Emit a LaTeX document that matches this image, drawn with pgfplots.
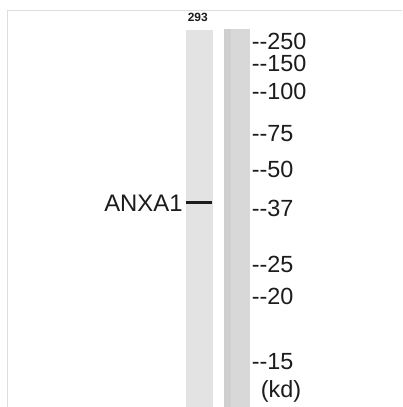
\documentclass[border=0pt]{standalone}
\usepackage{pgfplots}
\pgfplotsset{compat=1.18}
\usepackage{fontspec}
\setmainfont{Liberation Sans}
\definecolor{laneA}{HTML}{E3E3E3}
\definecolor{laneB}{HTML}{D8D8D8}
\definecolor{laneBedge}{HTML}{CFCFCF}
\definecolor{frame}{HTML}{DDDDDD}
\definecolor{ink}{HTML}{1C1C1C}
\begin{document}
\begin{tikzpicture}
\begin{axis}[
    scale only axis, width=403bp, height=407bp,
    xmin=0, xmax=403, ymin=0, ymax=407, y dir=reverse,
    hide axis, clip=false,
]
% page
\addplot[fill=white, draw=none] coordinates {(0,0) (403,0) (403,407) (0,407)} -- cycle;
% frame
\addplot[frame, line width=1bp] coordinates {(8,407) (8,11) (402,11)};
% lanes
\addplot[fill=laneA, draw=none] coordinates {(186,30) (213,30) (213,407) (186,407)} -- cycle;
\addplot[fill=laneB, draw=none] coordinates {(224,29) (250,29) (250,407) (224,407)} -- cycle;
\addplot[fill=laneBedge, draw=none] coordinates {(224,29) (231,29) (231,407) (224,407)} -- cycle;
% band
\addplot[ink, line width=3bp] coordinates {(186,203) (212,203)};
% labels
\node[anchor=base, inner sep=0, ink, font=\bfseries\fontsize{12}{12}\selectfont] at (axis cs:198,22) {293};
\node[anchor=base east, inner sep=0, ink, font=\fontsize{24}{24}\selectfont] at (axis cs:183,212) {ANXA1};
\begin{scope}[every node/.style={anchor=base west, inner sep=0, text=ink, font=\fontsize{23.5}{23.5}\selectfont}]
\node at (axis cs:252,50) {-{}-250};
\node at (axis cs:252,72) {-{}-150};
\node at (axis cs:252,100) {-{}-100};
\node at (axis cs:252,142) {-{}-75};
\node at (axis cs:252,178) {-{}-50};
\node at (axis cs:252,217) {-{}-37};
\node at (axis cs:252,273) {-{}-25};
\node at (axis cs:252,305) {-{}-20};
\node at (axis cs:252,370) {-{}-15};
\node at (axis cs:261,398) {(kd)};
\end{scope}
\end{axis}
\end{tikzpicture}
\end{document}
